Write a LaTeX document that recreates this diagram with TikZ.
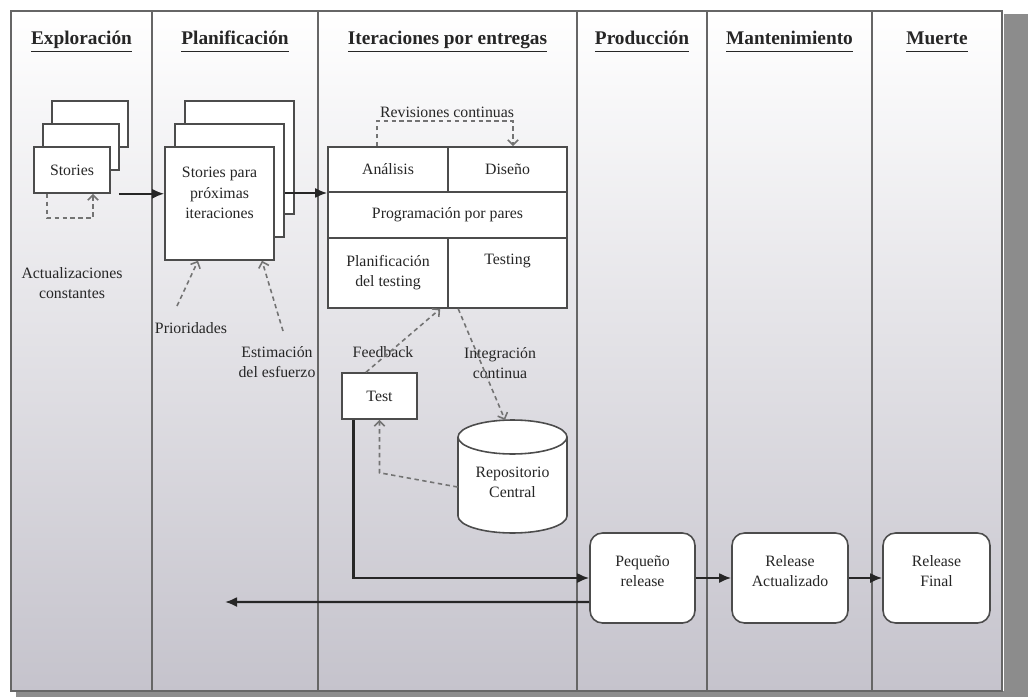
\documentclass[tikz,border=0pt]{standalone}
\usepackage{fontspec}
\setmainfont{Liberation Serif}
\usetikzlibrary{arrows.meta}
\definecolor{bgbottom}{RGB}{197,195,204}
\definecolor{bgmid}{RGB}{231,230,235}
% header text with an underline at a common depth
\newcommand{\hdrline}[1]{\underline{\smash{#1}\vphantom{p}}}
\begin{document}
\begin{tikzpicture}[x=0.02cm,y=-0.02cm,
  every node/.style={font=\fontsize{9}{11.5}\selectfont, text=black!85},
  box/.style={draw=black!70, line width=0.9pt, fill=white, inner sep=0pt, align=center},
  rbox/.style={box, rounded corners=0.25cm},
  hdr/.style={font=\fontsize{11}{13}\selectfont\bfseries, anchor=base},
  lbl/.style={align=center, inner sep=1pt},
  frameline/.style={draw=black!60, line width=1.2pt},
  flow/.style={line width=1.2pt, draw=black!85, -{Latex[length=0.24cm,width=0.2cm]}},
  dashedarrow/.style={line width=0.9pt, draw=black!55, dash pattern=on 2.5pt off 2pt,
    -{Straight Barb[length=3pt,width=6pt]}}
]
\useasboundingbox (0,0) rectangle (1030,699);
\fill[white] (0,0) rectangle (1030,699);

% drop shadow of the frame
\fill[black!45] (1004,14) rectangle (1028,697);
\fill[black!45] (16,691) rectangle (1028,697);

% frame with vertical gradient and the six columns
\shade[top color=white, middle color=bgmid, bottom color=bgbottom] (11,11) rectangle (1002,691);
\draw[frameline] (11,11) rectangle (1002,691);
\foreach \cx in {152,318,577,707,872}
  \draw[frameline] (\cx,11) -- (\cx,691);

% column headers
\node[hdr] (h1) at (81.5,45) {\hdrline{Exploración}};
\node[hdr] (h2) at (235,45) {\hdrline{Planificación}};
\node[hdr] (h3) at (447.5,45) {\hdrline{Iteraciones por entregas}};
\node[hdr] (h4) at (642,45) {\hdrline{Producción}};
\node[hdr] (h5) at (789.5,45) {\hdrline{Mantenimiento}};
\node[hdr] (h6) at (937,45) {\hdrline{Muerte}};

% Exploracion: stack of stories
\node[box, minimum width=1.52cm, minimum height=0.92cm] (stb) at (90,124) {};
\node[box, minimum width=1.52cm, minimum height=0.92cm] (stm) at (81,147) {};
\node[box, minimum width=1.52cm, minimum height=0.92cm] (stories) at (72,170) {Stories};
\node[lbl] (lactual) at (72,283) {Actualizaciones\\constantes};

% Planificacion: stack of stories for next iterations
\node[box, minimum width=2.18cm, minimum height=2.26cm] (planback) at (239.5,157.5) {};
\node[box, minimum width=2.18cm, minimum height=2.26cm] (planmid) at (229.5,180.5) {};
\node[box, minimum width=2.18cm, minimum height=2.26cm,
  label={[lbl, yshift=0.21cm]center:Stories para\\próximas\\iteraciones}] (plan) at (219.5,203.5) {};
\node[lbl] (lprio) at (191,328) {Prioridades};
\node[lbl] (lesti) at (277,362) {Estimación\\del esfuerzo};

% Iteraciones: activity block
\node[box, minimum width=2.4cm, minimum height=0.9cm] (analisis) at (388,169.5) {Análisis};
\node[box, minimum width=2.38cm, minimum height=0.9cm] (diseno) at (507.5,169.5) {Diseño};
\node[box, minimum width=4.78cm, minimum height=0.92cm] (prog) at (447.5,215) {Programación por pares};
\node[box, minimum width=2.4cm, minimum height=1.4cm] (plantest) at (388,273) {Planificación\\del testing};
\node[box, minimum width=2.38cm, minimum height=1.4cm,
  label={[lbl, anchor=north, yshift=-0.3cm]north:Testing}] (testing) at (507.5,273) {};
\node[lbl] (lrev) at (447,112) {Revisiones continuas};

% Test box and central repository
\node[box, minimum width=1.5cm, minimum height=0.92cm] (test) at (379.5,396) {Test};
\draw[draw=black!70, line width=0.9pt, fill=white] (458,437) -- (458,516)
  arc[start angle=180, end angle=0, x radius=54.5, y radius=17] -- (567,437);
\draw[draw=black!70, line width=0.9pt, fill=white] (512.5,437) ellipse [x radius=54.5, y radius=17];
\node[lbl, minimum width=2.18cm] (repo) at (512.5,482) {Repositorio\\Central};
\coordinate (cyltop) at (505,420);
\node[lbl] (lfeed) at (383,352) {Feedback};
\node[lbl] (linteg) at (500,363) {Integración\\continua};

% releases
\node[rbox, minimum width=2.1cm, minimum height=1.8cm,
  label={[lbl, yshift=0.14cm]center:Pequeño\\release}] (peq) at (642.5,578) {};
\node[rbox, minimum width=2.32cm, minimum height=1.8cm,
  label={[lbl, yshift=0.14cm]center:Release\\Actualizado}] (actual) at (790,578) {};
\node[rbox, minimum width=2.14cm, minimum height=1.8cm,
  label={[lbl, yshift=0.14cm]center:Release\\Final}] (final) at (936.5,578) {};

% main flow
\coordinate (s1) at ([xshift=0.16cm]stories.south east);
\draw[flow] (s1) -- (s1 -| plan.west);
\coordinate (p1) at ([yshift=-0.25cm]planmid.east);
\draw[flow] (p1) -- (p1 -| prog.west);
\draw[flow] ([xshift=-0.52cm]test.south) |- (peq.west);
\coordinate (back) at (225,602);
\draw[flow] ([yshift=-0.48cm]peq.west) -- (back);
\draw[flow] (peq) -- (actual);
\draw[flow] (actual) -- (final);

% dashed feedback loops
\draw[dashedarrow] ([xshift=-0.5cm]stories.south) -- ++(0,24) -| ([xshift=0.42cm]stories.south);
\draw[dashedarrow] ([xshift=-0.22cm]analisis.north) -- ++(0,-25) -| ([xshift=0.11cm]diseno.north);
\coordinate (pr) at (177,306);
\draw[dashedarrow] (pr) -- ([xshift=-0.43cm]plan.south);
\coordinate (es) at (283,331);
\draw[dashedarrow] (es) -- ([xshift=0.85cm]plan.south);
\draw[dashedarrow] ([xshift=-0.27cm]test.north) -- ([xshift=-0.14cm]testing.south west);
\draw[dashedarrow] ([xshift=0.22cm]testing.south west) -- (cyltop);
\draw[dashedarrow] ([yshift=-0.1cm]repo.west) -- ([yshift=-1.06cm]test.south) -- (test.south);
\end{tikzpicture}
\end{document}
